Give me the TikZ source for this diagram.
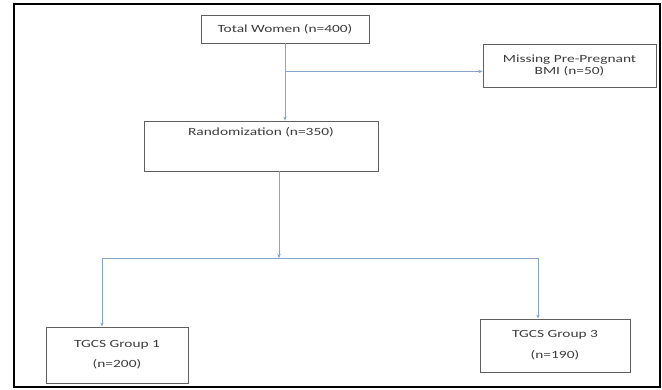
\documentclass[tikz,border=0pt]{standalone}
\usepackage{fontspec}
\setmainfont{Carlito}[FakeStretch=1.4]
\usepackage{tikz}
\usetikzlibrary{arrows.meta, positioning, calc}
\definecolor{flowblue}{RGB}{135, 165, 200}
\definecolor{boxgrey}{RGB}{95, 95, 95}
\definecolor{textgrey}{RGB}{60, 60, 60}

\begin{document}
\begin{tikzpicture}[x=1pt, y=-1pt,
    flowbox/.style={draw=boxgrey, line width=0.9pt, text=textgrey,
                    align=center, inner sep=3pt,
                    font=\fontsize{11}{12}\selectfont},
    flowline/.style={flowblue, line width=0.8pt},
    flowarrow/.style={flowline, -{Stealth[length=4pt, width=3.5pt]}}]
    \useasboundingbox (0,0) rectangle (662,389);
    \draw[line width=2.5pt] (14,4) rectangle (660,387);
    % boxes
    \node[flowbox, minimum width=168pt, minimum height=28pt]
        (total) at (285,29) {Total Women (n=400)};
    \node[flowbox, minimum width=173pt, minimum height=43pt]
        (missing) at (569.5,65.5) {Missing Pre-Pregnant\\BMI (n=50)};
    \node[flowbox, minimum width=234pt, minimum height=50pt, text depth=30pt]
        (random) at (261,146) {Randomization (n=350)};
    \node[flowbox, minimum width=142pt, minimum height=56pt]
        (grp1) at (117,355) {TGCS Group 1\\[8pt](n=200)};
    \node[flowbox, minimum width=150pt, minimum height=53pt]
        (grp3) at (555,345.5) {TGCS Group 3\\[9pt](n=190)};
    % connectors
    \coordinate (split) at ($(total.south)+(0,28)$);
    \draw[flowline] (total.south) -- (split);
    \draw[flowarrow] (split) -- (split |- random.north);
    \draw[flowarrow] (split) -- (split -| missing.west);
    \coordinate (fork) at (279,258);
    \coordinate (forkL) at (102,258);
    \coordinate (forkR) at (538,258);
    \draw[flowarrow] (fork |- random.south) -- (fork);
    \draw[flowline] (forkL) -- (forkR);
    \draw[flowarrow] (forkL) -- (forkL |- grp1.north);
    \draw[flowarrow] (forkR) -- (forkR |- grp3.north);
\end{tikzpicture}
\end{document}
